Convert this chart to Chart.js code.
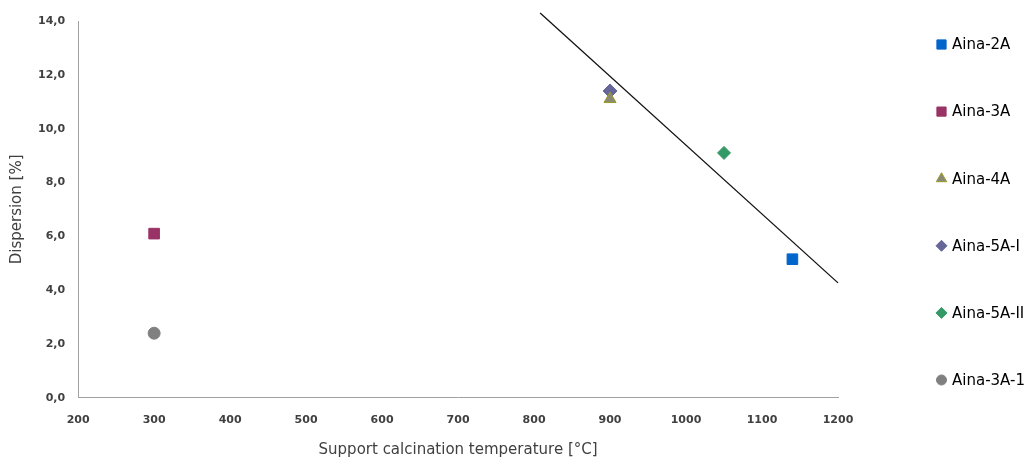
<!DOCTYPE html>
<html><head><meta charset="utf-8">
<script src="https://cdn.jsdelivr.net/npm/chart.js@4/dist/chart.umd.min.js"></script>
<style>html,body{margin:0;padding:0;background:#fff}#wrap{width:1030px;height:461px}</style>
</head><body><div id="wrap"><canvas id="c" width="1030" height="461"></canvas></div>
<script>
const seriesNames = ["Aina-2A","Aina-3A","Aina-4A","Aina-5A-I","Aina-5A-II","Aina-3A-1"];
const seriesX = [1140, 300, 900, 900, 1050, 300];
const seriesY = [5.15, 6.1, 11.1, 11.4, 9.1, 2.4];
const trendX = [808, 1200];
const trendY = [14.3, 4.27];
const xTicks = [200,300,400,500,600,700,800,900,1000,1100,1200];
const yTicks = [0,2,4,6,8,10,12,14];

const styles = [
  {pointStyle:'rect', bg:'#0066cc', border:'#0066cc', r:7.5, lr:6.5},
  {pointStyle:'rect', bg:'#993366', border:'#993366', r:7.5, lr:6.5},
  {pointStyle:'triangle', bg:'#8a8a74', border:'#9a9a28', r:7, lr:6},
  {pointStyle:'rectRot', bg:'#666699', border:'#666699', r:7, lr:5.5},
  {pointStyle:'rectRot', bg:'#339966', border:'#339966', r:6.5, lr:5.5},
  {pointStyle:'circle', bg:'#808080', border:'#808080', r:6, lr:5}
];
const datasets = seriesNames.map((n,i)=>({
  label:n, data:[{x:seriesX[i], y:seriesY[i]}],
  pointStyle:styles[i].pointStyle, backgroundColor:styles[i].bg, borderColor:styles[i].border,
  pointRadius:styles[i].r, borderWidth:1, showLine:false, legendRadius:styles[i].lr
}));
datasets.push({label:'trend', data:trendX.map((x,i)=>({x, y:trendY[i]})), showLine:true,
  borderColor:'#111', borderWidth:1.3, pointRadius:0, clip:false, isTrend:true});

function drawMarker(ctx, style, r, x, y){
  if (Chart.helpers && Chart.helpers.drawPoint) {
    Chart.helpers.drawPoint(ctx, {pointStyle:style, radius:r, rotation:0, borderWidth:1}, x, y);
    return;
  }
  ctx.beginPath(); ctx.arc(x,y,r,0,Math.PI*2); ctx.fill(); ctx.stroke();
}

const sideLegend = {
  id:'sideLegend',
  afterDraw(chart){
    const ctx = chart.ctx;
    const top = 44.5, step = 67.1, mx = 941.5, tx = 952;
    ctx.save();
    ctx.font = '15px "DejaVu Sans"';
    ctx.textBaseline = 'middle';
    ctx.textAlign = 'left';
    let k = 0;
    chart.data.datasets.forEach((ds)=>{
      if (ds.isTrend) return;
      const y = top + k*step;
      ctx.fillStyle = ds.backgroundColor; ctx.strokeStyle = ds.borderColor; ctx.lineWidth = 1;
      drawMarker(ctx, ds.pointStyle, ds.legendRadius, mx, y);
      ctx.fillStyle = '#000';
      ctx.fillText(ds.label, tx, y+1);
      k++;
    });
    ctx.restore();
  }
};

new Chart(document.getElementById('c'), {
  type:'scatter',
  data:{datasets},
  plugins:[sideLegend],
  options:{
    responsive:false, animation:false,
    layout:{padding:{left:10, top:21, right:192, bottom:3}},
    plugins:{ tooltip:{enabled:false}, legend:{display:false} },
    scales:{
      x:{type:'linear', min:200, max:1200,
        grid:{display:false, drawTicks:false}, border:{display:true, color:'#a0a0a0'},
        afterBuildTicks:(s)=>{s.ticks=xTicks.map(v=>({value:v}));},
        ticks:{color:'#404040', padding:16, maxRotation:0, font:{family:'DejaVu Sans', size:11, weight:'bold'},
          callback:(v)=>String(v)},
        title:{display:true, text:'Support calcination temperature [°C]', color:'#404040', font:{family:'DejaVu Sans', size:15, lineHeight:1}, padding:{top:0, bottom:0}}},
      y:{type:'linear', min:0, max:14,
        grid:{display:false, drawTicks:false}, border:{display:true, color:'#a0a0a0'},
        afterBuildTicks:(s)=>{s.ticks=yTicks.map(v=>({value:v}));},
        ticks:{color:'#404040', padding:13, font:{family:'DejaVu Sans', size:11, weight:'bold'},
          callback:(v)=>v.toFixed(1).replace('.',',')},
        title:{display:true, text:'Dispersion [%]', color:'#404040', font:{family:'DejaVu Sans', size:15, lineHeight:1}, padding:{top:0, bottom:0}}}
    }
  }
});
</script></body></html>
